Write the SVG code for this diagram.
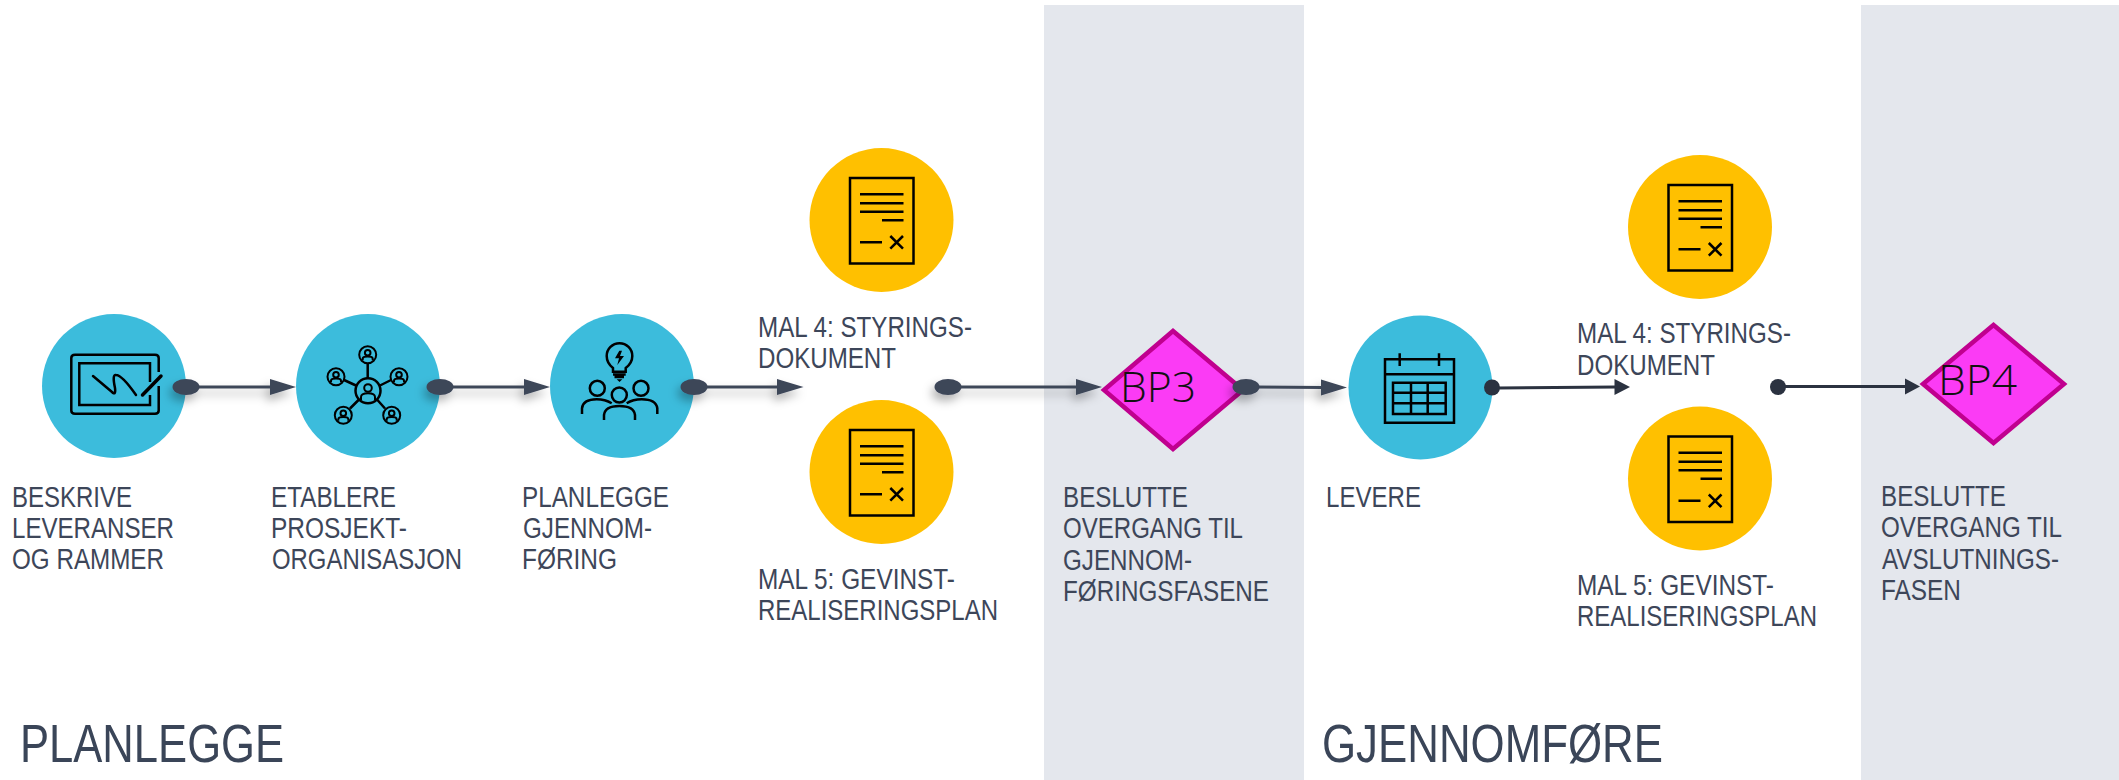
<svg xmlns="http://www.w3.org/2000/svg" width="2119" height="780" viewBox="0 0 2119 780">
<style>
.band{fill:#E4E7ED}
.blue{fill:#3CBCDC}
.gold{fill:#FFC000}
.dia{fill:#FB3BF5;stroke:#C0008F;stroke-width:4.5}
text{font-family:"Liberation Sans",Arial,sans-serif}
.t{font-size:29px;fill:#3D4659}
.bp{font-family:"Open Sans","Liberation Sans",sans-serif;font-weight:300;font-size:42px;fill:#111}
.title{font-size:54px;fill:#3A4558}
.ic{fill:none;stroke:#000;stroke-width:2.5}
.th{stroke-width:2}
.c1 line{stroke:#3D4659;stroke-width:3}
.c1 ellipse,.c1 polygon{fill:#3D4659}
.c2 line{stroke:#2B3240;stroke-width:3}
.c2 ellipse,.c2 polygon{fill:#2B3240}
</style>
<defs>
<filter id="sh" x="-30%" y="-200%" width="160%" height="500%"><feDropShadow dx="-3" dy="6" stdDeviation="5" flood-color="#000" flood-opacity="0.3"/></filter>
<g id="doc">
<rect class="ic" x="-31.5" y="-42" width="63.5" height="85.5"/>
<path class="ic" d="M-21.5-25.7H22M-21.5-16.7H22M-21.5-8.3H22M0.5 0.3H22M-21.5 22.3H0.5M8.8 16L21.5 28.7M21.5 16L8.800 28.7"/>
</g>
<g id="p"><circle class="ic th" r="8.5"/><circle class="ic th" cy="-2" r="2.8"/><path class="ic th" d="M-5 5.5V4C-5 1 5 1 5 4V5.500"/></g>
</defs>
<rect class="band" x="1044" y="5" width="260" height="775"/>
<rect class="band" x="1861" y="5" width="258" height="775"/>

<g id="n1"><circle class="blue" cx="114" cy="386" r="72"/>
<path class="ic" d="M158.700 372V358Q158.700 354.700 155 354.700H75Q71.300 354.700 71.300 358V410.500Q71.300 413.700 75 413.700H155Q158.700 413.700 158.700 410.500V386"/>
<path class="ic" d="M150 382V363.300H79.300V405H150V395"/>
<path class="ic" stroke-linecap="round" d="M93 376L112 392Q116 396 115 388Q112 374 116 375Q122 375 136 395"/>
<path class="ic" style="stroke-width:3.5" stroke-linecap="round" d="M142.500 395L161 376"/>
<text class="t" x="12" y="507" textLength="120" lengthAdjust="spacingAndGlyphs">BESKRIVE</text>
<text class="t" x="12" y="538" textLength="162" lengthAdjust="spacingAndGlyphs">LEVERANSER</text>
<text class="t" x="12" y="569" textLength="152" lengthAdjust="spacingAndGlyphs">OG RAMMER</text>
</g>
<g id="n2"><circle class="blue" cx="368" cy="386" r="72"/>
<circle class="ic" cx="368" cy="390.700" r="12.500"/><circle class="ic th" cx="368" cy="388" r="3.800"/><path class="ic th" d="M361 400V397C361 392 375 392 375 397V400"/>
<use href="#p" x="367.700" y="354.700"/><use href="#p" x="336" y="376.700"/><use href="#p" x="399" y="376.700"/><use href="#p" x="343.300" y="415.300"/><use href="#p" x="391.700" y="415.300"/>
<path class="ic" d="M367.700 363.500V378M344 380L356 385.500M391 380L380 385.500M350 408.500L359 399.500M385 408.500L377 399.500"/>
<text class="t" x="271" y="507" textLength="125" lengthAdjust="spacingAndGlyphs">ETABLERE</text>
<text class="t" x="271" y="538" textLength="136" lengthAdjust="spacingAndGlyphs">PROSJEKT-</text>
<text class="t" x="272" y="569" textLength="190" lengthAdjust="spacingAndGlyphs">ORGANISASJON</text>
</g>
<g id="n3"><circle class="blue" cx="622" cy="386" r="72"/>
<path class="ic" d="M613 371.700V368Q606.700 363 606.700 356A12.800 12.800 0 0 1 632.300 356Q632.300 363 625.700 368V371.700ZM613 374.500H625.700M614.500 377H624"/>
<polygon points="616.700,379.300 622.300,379.300 619.500,382"/>
<polygon points="619.300,350.700 615,358.300 619,358.300 617.300,365 624,356 620,356 622,350.700"/>
<circle class="ic" cx="597.300" cy="388.300" r="7.500"/><circle class="ic" cx="641" cy="388.300" r="7.500"/><circle class="ic" cx="619.300" cy="395" r="7.500"/>
<path class="ic" d="M582 414V408.300Q583 399.300 596.700 399.300Q605 399.300 611.700 403.300M657.300 414V408.300Q656 399.300 641.700 399.300Q633 399.300 626.700 403.300M604 420V415Q605 406 619.300 406Q634 406 635 415V420"/>
<text class="t" x="522" y="507" textLength="147" lengthAdjust="spacingAndGlyphs">PLANLEGGE</text>
<text class="t" x="523" y="538" textLength="129" lengthAdjust="spacingAndGlyphs">GJENNOM-</text>
<text class="t" x="522" y="569" textLength="95" lengthAdjust="spacingAndGlyphs">FØRING</text>
</g>
<g id="n4"><circle class="gold" cx="881.500" cy="220" r="72"/><use href="#doc" x="881.500" y="220"/>
<text class="t" x="758" y="337" textLength="214" lengthAdjust="spacingAndGlyphs">MAL 4: STYRINGS-</text>
<text class="t" x="758" y="368" textLength="138" lengthAdjust="spacingAndGlyphs">DOKUMENT</text>
</g>
<g id="n5"><circle class="gold" cx="881.500" cy="472" r="72"/><use href="#doc" x="881.500" y="472"/>
<text class="t" x="758" y="589" textLength="197" lengthAdjust="spacingAndGlyphs">MAL 5: GEVINST-</text>
<text class="t" x="758" y="620" textLength="240" lengthAdjust="spacingAndGlyphs">REALISERINGSPLAN</text>
</g>
<g id="n6"><polygon class="dia" points="1104,390 1173,331 1243,390 1173,449"/>
<text class="bp" x="1120" y="402" textLength="76" lengthAdjust="spacingAndGlyphs">BP3</text>
<text class="t" x="1063" y="507" textLength="125" lengthAdjust="spacingAndGlyphs">BESLUTTE</text>
<text class="t" x="1063" y="538" textLength="180" lengthAdjust="spacingAndGlyphs">OVERGANG TIL</text>
<text class="t" x="1063" y="570" textLength="129" lengthAdjust="spacingAndGlyphs">GJENNOM-</text>
<text class="t" x="1063" y="601" textLength="206" lengthAdjust="spacingAndGlyphs">FØRINGSFASENE</text>
</g>
<g id="n7"><circle class="blue" cx="1420.500" cy="387.500" r="72"/>
<path class="ic" d="M1385 359.300H1454V422.700H1385ZM1385 374.300H1454M1399.700 353.300V366M1439 353.300V366M1393 382.700H1445.700V414H1393ZM1411 382.700V414M1427.700 382.700V414M1393 392.700H1445.700M1393 403.300H1445.700"/>
<text class="t" x="1326" y="507" textLength="95" lengthAdjust="spacingAndGlyphs">LEVERE</text>
</g>
<g id="n8"><circle class="gold" cx="1700" cy="227" r="72"/><use href="#doc" x="1700" y="227"/>
<text class="t" x="1577" y="343" textLength="214" lengthAdjust="spacingAndGlyphs">MAL 4: STYRINGS-</text>
<text class="t" x="1577" y="375" textLength="138" lengthAdjust="spacingAndGlyphs">DOKUMENT</text>
</g>
<g id="n9"><circle class="gold" cx="1700" cy="478.500" r="72"/><use href="#doc" x="1700" y="478.500"/>
<text class="t" x="1577" y="595" textLength="197" lengthAdjust="spacingAndGlyphs">MAL 5: GEVINST-</text>
<text class="t" x="1577" y="626" textLength="240" lengthAdjust="spacingAndGlyphs">REALISERINGSPLAN</text>
</g>
<g id="n10"><polygon class="dia" points="1923,384 1993.500,325 2064,384 1993.500,443"/>
<text class="bp" x="1938" y="395" textLength="79" lengthAdjust="spacingAndGlyphs">BP4</text>
<text class="t" x="1881" y="506" textLength="125" lengthAdjust="spacingAndGlyphs">BESLUTTE</text>
<text class="t" x="1881" y="537" textLength="181" lengthAdjust="spacingAndGlyphs">OVERGANG TIL</text>
<text class="t" x="1882" y="569" textLength="177" lengthAdjust="spacingAndGlyphs">AVSLUTNINGS-</text>
<text class="t" x="1881" y="600" textLength="80" lengthAdjust="spacingAndGlyphs">FASEN</text>
</g>

<g id="connectors">
<g class="c1" filter="url(#sh)"><ellipse cx="186" cy="387" rx="13.500" ry="8"/><line x1="195" y1="387" x2="272" y2="387"/><polygon points="270,379 296,387 270,395"/></g>
<g class="c1" filter="url(#sh)"><ellipse cx="440" cy="387" rx="13.500" ry="8"/><line x1="450" y1="387" x2="526" y2="387"/><polygon points="524,379 550,387 524,395"/></g>
<g class="c1" filter="url(#sh)"><ellipse cx="694" cy="387" rx="13.500" ry="8"/><line x1="704" y1="387" x2="779" y2="387"/><polygon points="777,379 803.500,387 777,395"/></g>
<g class="c1" filter="url(#sh)"><ellipse cx="948" cy="387" rx="13.500" ry="8"/><line x1="958" y1="387" x2="1078" y2="387"/><polygon points="1076,379 1102,387 1076,395"/></g>
<g class="c1" filter="url(#sh)"><ellipse cx="1246" cy="387" rx="13.500" ry="8"/><line x1="1256" y1="387" x2="1323" y2="387.500"/><polygon points="1321,379.500 1347,387.500 1321,395.500"/></g>
<g class="c2"><ellipse cx="1492" cy="387.500" rx="8" ry="8"/><line x1="1498" y1="388" x2="1616" y2="387"/><polygon points="1614.500,379 1630,387 1614.500,395"/></g>
<g class="c2"><ellipse cx="1778" cy="387" rx="8" ry="8"/><line x1="1784" y1="386.500" x2="1906" y2="386.500"/><polygon points="1905,378.500 1920,386.500 1905,394.500"/></g>
</g>

<text class="title" x="20" y="762" textLength="264" lengthAdjust="spacingAndGlyphs">PLANLEGGE</text>
<text class="title" x="1322" y="762" textLength="341" lengthAdjust="spacingAndGlyphs">GJENNOMFØRE</text>
</svg>
